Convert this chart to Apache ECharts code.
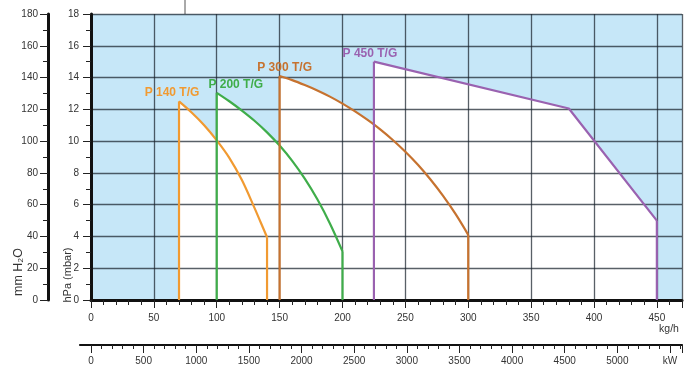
<!DOCTYPE html>
<html>
<head>
<meta charset="utf-8">
<script src="https://cdn.jsdelivr.net/npm/echarts@6/dist/echarts.min.js"></script>
<style>html,body{margin:0;padding:0;background:#fff;}#c{width:700px;height:381px;}</style>
</head>
<body>
<div id="c"></div>
<script>
// kg/h and hPa values for each burner curve
const seriesNames = ['P 140 T/G', 'P 200 T/G', 'P 300 T/G', 'P 450 T/G'];
const p140X = [70, 70, 80, 90, 100, 110, 120, 130, 135, 140, 140];
const p140Y = [0, 12.5, 11.8, 11.0, 10.05, 8.95, 7.55, 5.8, 4.88, 3.95, 0];
const p200X = [100, 100, 110, 120, 130, 140, 150, 160, 170, 180, 190, 200, 200];
const p200Y = [0, 13.04, 12.51, 11.92, 11.28, 10.55, 9.72, 8.76, 7.64, 6.34, 4.82, 3.06, 0];
const p300X = [150, 150, 160, 170, 180, 190, 200, 210, 220, 230, 240, 250, 260, 270, 280, 290, 300, 300];
const p300Y = [0, 14.1, 13.84, 13.53, 13.19, 12.8, 12.36, 11.87, 11.33, 10.74, 10.07, 9.33, 8.51, 7.58, 6.55, 5.4, 4.1, 0];
const p450X = [225, 225, 380, 450, 450];
const p450Y = [0, 15.0, 12.05, 5.0, 0];
const curved = [true, true, true, false];
// axis ranges / tick settings
const kghMax = 470, kghInterval = 50;
const hpaMax = 18, hpaInterval = 2;
const mmMax = 180, mmInterval = 20;
const kwMax = 5614, kwInterval = 500, kwLastLabel = 5500;

const colors = ['#f19a31', '#3fad4a', '#c6722f', '#9a62b0'];
const xs = [p140X, p200X, p300X, p450X];
const ys = [p140Y, p200Y, p300Y, p450Y];
const labelOffsets = [[-7, -8.5], [19, -8.5], [5, -8], [-4, -7.5]];

const font = 'Liberation Sans, Arial, sans-serif';
const lbl = {fontFamily: font, fontSize: 10, color: '#333'};

const series = [];
xs.forEach((x, i) => {
  const data = x.map((v, k) => [v, ys[i][k]]);
  series.push({
    type: 'line', xAxisIndex: 0, yAxisIndex: 0, data, symbol: 'none', silent: true,
    smooth: curved[i] ? 0.35 : false,
    lineStyle: {width: 0, opacity: 0}, areaStyle: {color: '#ffffff', opacity: 1}, z: 1
  });
});
xs.forEach((x, i) => {
  const data = x.map((v, k) => [v, ys[i][k]]);
  const n = data.length;
  const style = {width: 2.2, color: colors[i]};
  // left vertical edge
  series.push({type: 'line', data: data.slice(0, 2), symbol: 'none', lineStyle: style, z: 4, silent: true});
  // right vertical edge
  series.push({type: 'line', data: data.slice(n - 2), symbol: 'none', lineStyle: style, z: 4, silent: true});
  // top curve
  series.push({
    type: 'line', name: seriesNames[i], data: data.slice(1, n - 1), symbol: 'none',
    smooth: curved[i] ? 0.35 : false,
    lineStyle: style, z: 4,
    markPoint: {
      symbol: 'circle', symbolSize: 1, itemStyle: {color: 'transparent'},
      data: [{coord: data[1], label: {show: true, position: 'inside', offset: labelOffsets[i],
        formatter: seriesNames[i], color: colors[i], fontWeight: 'bold', fontSize: 12, fontFamily: font}}]
    }
  });
});

const chart = echarts.init(document.getElementById('c'), null, {renderer: 'canvas'});
const gridLine = {show: true, lineStyle: {color: 'rgba(25,35,45,0.72)', width: 1.3}};
chart.setOption({
  animation: false,
  grid: [
    {left: 91, right: 18, top: 14, bottom: 81, show: true, backgroundColor: '#c6e7f8', borderWidth: 0},
    {left: 91, right: 18, top: 340, bottom: 36},
    {left: 80, right: 18, top: 340, bottom: 36}
  ],
  xAxis: [
    {gridIndex: 0, type: 'value', min: 0, max: kghMax, interval: kghInterval, z: 2,
     axisLine: {lineStyle: {color: '#111', width: 3}},
     axisTick: {length: 8, lineStyle: {color: '#222', width: 1}},
     minorTick: {show: true, splitNumber: 5, length: 5, lineStyle: {color: '#222', width: 1}},
     axisLabel: Object.assign({margin: 13, formatter: v => v > 450 ? '' : String(v)}, lbl),
     splitLine: gridLine},
    {gridIndex: 1, type: 'value', min: 0, max: kwMax, interval: kwInterval,
     axisLine: {show: false},
     axisTick: {length: 8, lineStyle: {color: '#222', width: 1}},
     minorTick: {show: true, splitNumber: 5, length: 4, lineStyle: {color: '#222', width: 1}},
     axisLabel: Object.assign({margin: 11, formatter: v => v === kwLastLabel ? 'kW' : (v > kwLastLabel ? '' : String(v))}, lbl),
     splitLine: {show: false}},
    {gridIndex: 2, type: 'value', min: 0, max: 1,
     axisLine: {lineStyle: {color: '#111', width: 2.2}},
     axisTick: {show: false}, axisLabel: {show: false}, splitLine: {show: false}}
  ],
  yAxis: [
    {gridIndex: 0, type: 'value', min: 0, max: hpaMax, interval: hpaInterval, z: 2,
     axisLine: {show: true, lineStyle: {color: '#111', width: 3}},
     axisTick: {show: true, length: 8, lineStyle: {color: '#222', width: 1}},
     minorTick: {show: true, splitNumber: 2, length: 5, lineStyle: {color: '#222', width: 1}},
     axisLabel: Object.assign({margin: 12}, lbl),
     splitLine: gridLine},
    {gridIndex: 0, type: 'value', position: 'left', offset: 43, min: 0, max: mmMax, interval: mmInterval,
     axisLine: {show: true, lineStyle: {color: '#111', width: 3}},
     axisTick: {show: true, length: 8, lineStyle: {color: '#222', width: 1}},
     minorTick: {show: true, splitNumber: 2, length: 5, lineStyle: {color: '#222', width: 1}},
     axisLabel: Object.assign({margin: 10}, lbl),
     splitLine: {show: false}},
    {gridIndex: 1, type: 'value', show: false},
    {gridIndex: 2, type: 'value', show: false}
  ],
  graphic: [
    {type: 'line', shape: {x1: 185, y1: 0, x2: 185, y2: 14}, style: {stroke: '#555', lineWidth: 1}},
    {type: 'text', x: 669, y: 329, style: {text: 'kg/h', fontFamily: font, fontSize: 10.5, fill: '#333', textAlign: 'center', textVerticalAlign: 'middle'}},
    {type: 'text', x: 68, y: 275, rotation: Math.PI / 2, style: {text: 'hPa (mbar)', fontFamily: font, fontSize: 11, fill: '#333', textAlign: 'center', textVerticalAlign: 'middle'}},
    {type: 'text', x: 19, y: 272, rotation: Math.PI / 2, style: {text: 'mm H\u2082O', fontFamily: 'Liberation Sans, DejaVu Sans, sans-serif', fontSize: 12.5, fill: '#333', textAlign: 'center', textVerticalAlign: 'middle'}}
  ],
  series
});
</script>
</body>
</html>
